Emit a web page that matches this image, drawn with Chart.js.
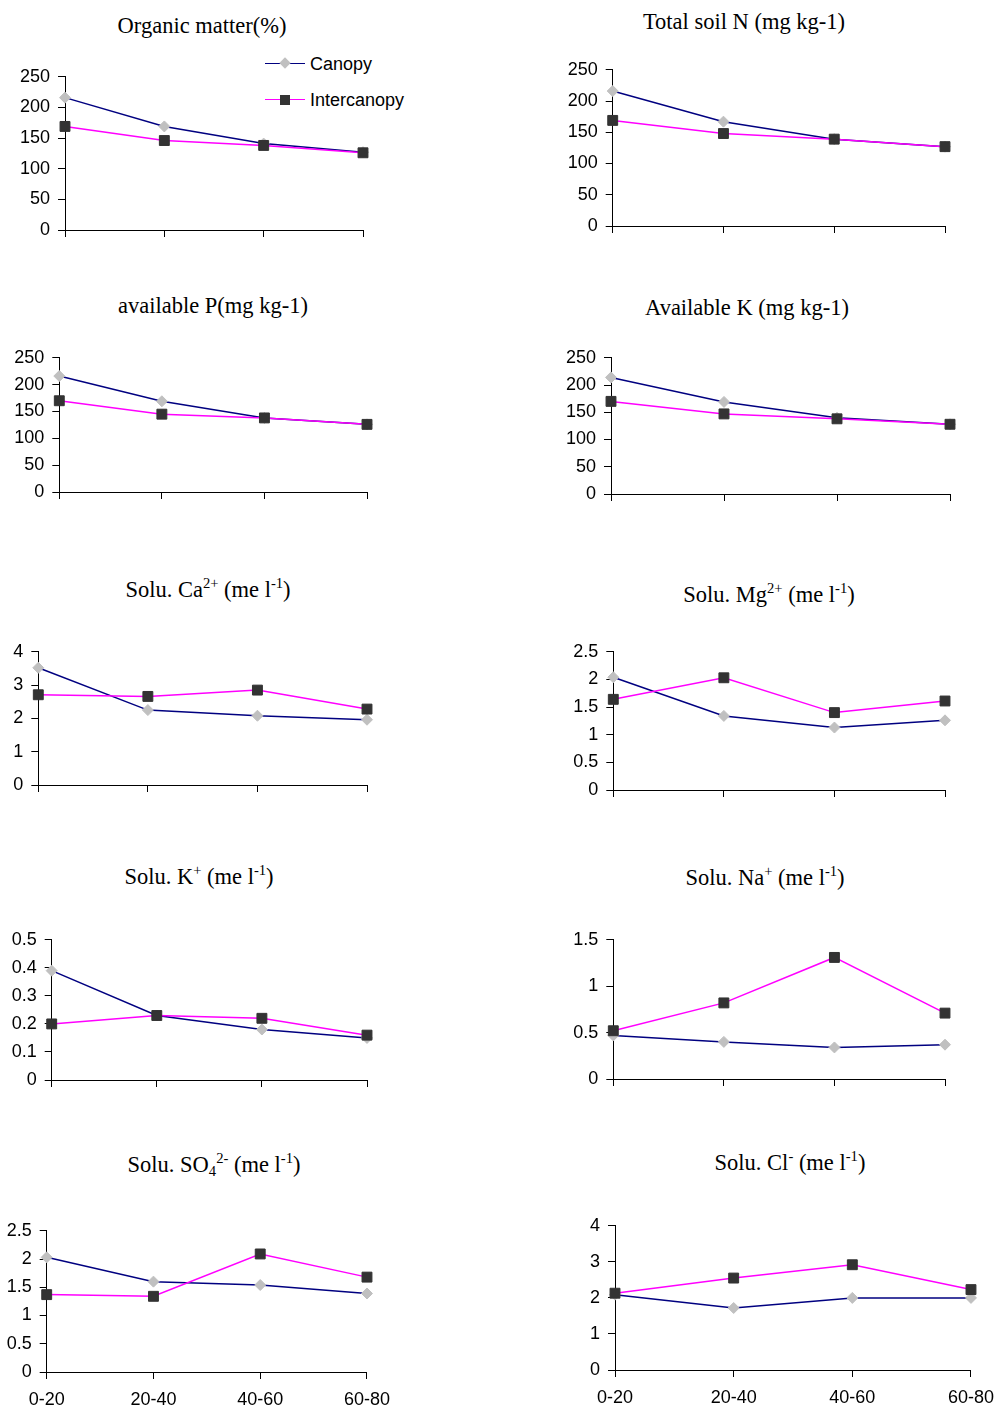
<!DOCTYPE html>
<html>
<head>
<meta charset="utf-8">
<script src="https://cdn.jsdelivr.net/npm/chart.js@4.4.0/dist/chart.umd.min.js"></script>
<style>
    html, body { margin: 0; padding: 0; background: #fff; }
    #page { position: relative; width: 1000px; height: 1409px; overflow: hidden; }
    canvas { position: absolute; }
    .title {
        position: absolute;
        font-family: "Liberation Serif", "Times New Roman", serif;
        font-size: 22.5px;
        line-height: 23px;
        white-space: nowrap;
        color: #000;
        transform: translateX(-50%);
    }
    .title sup { font-size: 0.65em; position: relative; top: -0.6em; vertical-align: baseline; line-height: 0; }
    .title sub { font-size: 0.65em; position: relative; top: 0.3em; vertical-align: baseline; line-height: 0; }
    .legend { position: absolute; left: 265px; font-family: "Liberation Sans", Arial, sans-serif; font-size: 18px; line-height: 18px; color: #000; }
    .legend .ln { position: absolute; left: 0; top: 8px; width: 40px; height: 0; }
    .legend .mk { position: absolute; }
    .legend .tx { position: absolute; left: 45px; top: 0; white-space: nowrap; }
</style>
</head>
<body>
<div id="page">
    <div class="legend" style="top:55px">
        <div class="ln" style="border-top:1.5px solid #000080"></div>
        <div class="mk" style="left:16px;top:4px;width:8px;height:8px;background:#c0c0c0;transform:rotate(45deg)"></div>
        <div class="tx">Canopy</div>
    </div>
    <div class="legend" style="top:91px">
        <div class="ln" style="border-top:1.5px solid #ff00ff"></div>
        <div class="mk" style="left:15px;top:4px;width:10px;height:10px;background:#333333"></div>
        <div class="tx">Intercanopy</div>
    </div>
</div>
<script>
'use strict';

/* depth classes (cm) */
const depths = ['0-20', '20-40', '40-60', '60-80'];

/* values */
const organicCanopy = [216, 169, 141, 127];
const organicInter  = [169, 146, 138, 126];
const totalNCanopy  = [216, 167, 139, 127];
const totalNInter   = [169, 148, 139, 127];
const availPCanopy  = [216, 169, 138, 126];
const availPInter   = [170, 145, 138, 126];
const availKCanopy  = [214, 169, 140, 128];
const availKInter   = [170, 147, 138, 128];
const caCanopy  = [3.52, 2.25, 2.08, 1.96];
const caInter   = [2.71, 2.66, 2.85, 2.28];
const mgCanopy  = [2.04, 1.34, 1.13, 1.26];
const mgInter   = [1.64, 2.03, 1.40, 1.61];
const kCanopy   = [0.39, 0.23, 0.18, 0.15];
const kInter    = [0.20, 0.23, 0.22, 0.16];
const naCanopy  = [0.47, 0.40, 0.34, 0.37];
const naInter   = [0.52, 0.82, 1.31, 0.71];
const so4Canopy = [2.03, 1.60, 1.54, 1.39];
const so4Inter  = [1.37, 1.34, 2.09, 1.68];
const clCanopy  = [2.09, 1.72, 2.00, 2.00];
const clInter   = [2.13, 2.55, 2.92, 2.23];

/* y axis ranges */
const yMax  = [250, 250, 250, 250, 4, 2.5, 0.5, 1.5, 2.5, 4];
const yStep = [50, 50, 50, 50, 1, 0.5, 0.1, 0.5, 0.5, 1];

const titles = [
    'Organic matter(%)',
    'Total soil N (mg kg-1)',
    'available P(mg kg-1)',
    'Available K (mg kg-1)',
    'Solu. Ca<sup>2+</sup> (me l<sup>-1</sup>)',
    'Solu. Mg<sup>2+</sup> (me l<sup>-1</sup>)',
    'Solu. K<sup>+</sup> (me l<sup>-1</sup>)',
    'Solu. Na<sup>+</sup> (me l<sup>-1</sup>)',
    'Solu. SO<sub>4</sub><sup>2-</sup> (me l<sup>-1</sup>)',
    'Solu. Cl<sup>-</sup> (me l<sup>-1</sup>)'
];
const canopySeries = [organicCanopy, totalNCanopy, availPCanopy, availKCanopy, caCanopy, mgCanopy, kCanopy, naCanopy, so4Canopy, clCanopy];
const interSeries  = [organicInter, totalNInter, availPInter, availKInter, caInter, mgInter, kInter, naInter, so4Inter, clInter];

/* panel geometry: y axis x, last category x, top of y range, zero line, title centre and baseline */
const boxes = [
    {axisX: 65,    lastX: 363,   topY: 72.7,   zeroY: 229.3,  tx: 202, ty: 33},
    {axisX: 612.7, lastX: 945,   topY: 65,     zeroY: 226,    tx: 744, ty: 29},
    {axisX: 59.3,  lastX: 366.7, topY: 353.3,  zeroY: 492,    tx: 213, ty: 313},
    {axisX: 611,   lastX: 950,   topY: 353.3,  zeroY: 493.7,  tx: 747, ty: 315},
    {axisX: 38.3,  lastX: 366.7, topY: 647.7,  zeroY: 785,    tx: 208, ty: 597},
    {axisX: 613.3, lastX: 944.3, topY: 647.3,  zeroY: 789.3,  tx: 769, ty: 602},
    {axisX: 51.7,  lastX: 366.7, topY: 935.7,  zeroY: 1080,   tx: 199, ty: 884},
    {axisX: 613.3, lastX: 944.3, topY: 935.7,  zeroY: 1078.7, tx: 765, ty: 885},
    {axisX: 46.7,  lastX: 369.3, topY: 1226,   zeroY: 1371.7, tx: 214, ty: 1172},
    {axisX: 615,   lastX: 973.3, topY: 1221.7, zeroY: 1369.3, tx: 790, ty: 1170}
];

Chart.defaults.font.family = '"Liberation Sans", Arial, sans-serif';
Chart.defaults.font.size = 18;
Chart.defaults.color = '#000';

const page = document.getElementById('page');

for (let i = 0; i < boxes.length; i++) {
    const b = boxes[i];
    const isBottom = i >= 8;
    const left = i % 2 === 0 ? 0 : 500;
    const top = Math.floor(b.topY - 14);
    const width = Math.ceil(b.lastX + 30 - left);
    const height = Math.ceil(b.zeroY - top + 40);

    const title = document.createElement('div');
    title.className = 'title';
    title.innerHTML = titles[i];
    title.style.left = b.tx + 'px';
    title.style.top = (b.ty - 19) + 'px';
    page.appendChild(title);

    const canvas = document.createElement('canvas');
    canvas.width = width;
    canvas.height = height;
    canvas.style.left = left + 'px';
    canvas.style.top = top + 'px';
    canvas.style.width = width + 'px';
    canvas.style.height = height + 'px';
    page.appendChild(canvas);

    const axisGrid = {display: true, drawOnChartArea: false, drawTicks: true, tickLength: 7, color: '#000', lineWidth: 1};

    new Chart(canvas.getContext('2d'), {
        type: 'line',
        data: {
            labels: depths,
            datasets: [{
                label: 'Canopy',
                data: canopySeries[i],
                borderColor: '#000080',
                borderWidth: 1.5,
                pointStyle: 'rectRot',
                pointRadius: 5.5,
                pointBackgroundColor: '#c0c0c0',
                pointBorderColor: '#c0c0c0',
                pointBorderWidth: 1,
                tension: 0,
                clip: false,
                order: 2
            },
            {
                label: 'Intercanopy',
                data: interSeries[i],
                borderColor: '#ff00ff',
                borderWidth: 1.5,
                pointStyle: 'rect',
                pointRadius: 7,
                pointBackgroundColor: '#333333',
                pointBorderColor: '#333333',
                pointBorderWidth: 1,
                tension: 0,
                clip: false,
                order: 1
            }]
        },
        options: {
            responsive: false,
            animation: false,
            devicePixelRatio: 1,
            layout: {padding: {top: b.topY - top, right: 30, left: 0, bottom: 0}},
            plugins: {legend: {display: false}, tooltip: {enabled: false}},
            scales: {
                x: {
                    offset: false,
                    grid: axisGrid,
                    border: {display: true, color: '#000', width: 1},
                    ticks: {display: isBottom, maxRotation: 0, autoSkip: false, padding: 10},
                    afterFit: function(scale) { scale.height = 40; }
                },
                y: {
                    min: 0,
                    max: yMax[i],
                    grid: axisGrid,
                    border: {display: true, color: '#000', width: 1},
                    ticks: {
                        stepSize: yStep[i],
                        padding: 8,
                        callback: function(value) { return String(Math.round(value * 100) / 100); }
                    },
                    afterFit: function(scale) { scale.width = b.axisX - left; }
                }
            }
        }
    });
}
</script>
</body>
</html>
